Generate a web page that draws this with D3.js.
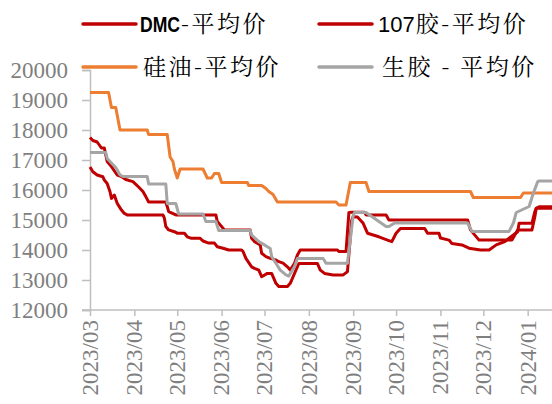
<!DOCTYPE html>
<html>
<head>
<meta charset="utf-8">
<script src="https://cdn.jsdelivr.net/npm/d3@7"></script>
<style>
  body { margin: 0; background: #fff; }
  svg { display: block; }
</style>
</head>
<body>
<div id="chart"></div>
<script>
// prices (yuan / ton)
var dmcDates = ["2023-03-01","2023-03-03","2023-03-06","2023-03-10","2023-03-11","2023-03-13","2023-03-15","2023-03-16","2023-03-18","2023-03-20","2023-03-23","2023-03-25","2023-03-27","2023-04-21","2023-04-22","2023-04-23","2023-04-25","2023-04-29","2023-05-01","2023-05-06","2023-05-08","2023-05-11","2023-05-17","2023-05-19","2023-05-23","2023-05-27","2023-05-29","2023-06-02","2023-06-06","2023-06-15","2023-06-16","2023-06-18","2023-06-22","2023-06-24","2023-06-27","2023-06-29","2023-07-03","2023-07-06","2023-07-09","2023-07-11","2023-07-17","2023-07-19","2023-07-22","2023-07-25","2023-08-07","2023-08-09","2023-08-12","2023-08-18","2023-08-25","2023-08-28","2023-08-31","2023-09-01","2023-09-04","2023-09-08","2023-09-11","2023-09-19","2023-09-25","2023-09-28","2023-10-01","2023-10-04","2023-10-21","2023-10-23","2023-10-31","2023-11-01","2023-11-07","2023-11-09","2023-11-16","2023-11-21","2023-11-29","2023-12-05","2023-12-10","2023-12-16","2023-12-19","2023-12-25","2023-12-26","2024-01-04","2024-01-06","2024-01-07","2024-01-18"];
var dmcValues = [16770,16610,16500,16440,16330,16220,15940,15720,15830,15560,15330,15220,15170,15170,15060,14780,14670,14610,14560,14560,14440,14390,14390,14300,14230,14230,14110,14060,14000,14000,13950,13720,13440,13390,13330,13110,13220,13220,12890,12780,12780,12890,13220,13550,13550,13330,13220,13170,13170,13280,15000,15110,15100,14890,14560,14440,14330,14280,14560,14720,14720,14560,14560,14400,14330,14220,14170,14060,14000,14000,14170,14280,14390,14610,14890,14890,15280,15390,15390];

var g107Dates = ["2023-03-01","2023-03-03","2023-03-06","2023-03-09","2023-03-11","2023-03-13","2023-03-16","2023-03-20","2023-03-23","2023-03-26","2023-03-31","2023-04-04","2023-04-07","2023-04-09","2023-04-11","2023-04-23","2023-04-24","2023-04-25","2023-04-30","2023-05-28","2023-05-29","2023-06-03","2023-06-21","2023-06-22","2023-06-24","2023-06-28","2023-06-29","2023-07-02","2023-07-05","2023-07-09","2023-07-11","2023-07-14","2023-07-17","2023-07-19","2023-07-22","2023-07-24","2023-07-26","2023-08-21","2023-08-22","2023-08-27","2023-08-29","2023-08-31","2023-09-09","2023-09-10","2023-09-24","2023-09-26","2023-11-20","2023-11-22","2023-11-28","2023-12-21","2023-12-23","2023-12-25","2024-01-04","2024-01-06","2024-01-07","2024-01-09","2024-01-18"];
var g107Values = [17750,17650,17600,17400,17400,16950,16780,16500,16450,16350,16280,16100,15950,15780,15600,15600,15450,15280,15170,15170,14950,14670,14670,14390,14280,14170,13890,13780,13720,13670,13610,13560,13440,13330,13560,13830,14000,14000,13950,13950,15250,15260,15260,15170,15170,15000,15000,14670,14330,14330,14500,14670,14670,15110,15390,15440,15440];

var oilDates = ["2023-03-01","2023-03-14","2023-03-16","2023-03-19","2023-03-22","2023-04-10","2023-04-11","2023-04-24","2023-04-26","2023-04-28","2023-04-29","2023-05-01","2023-05-03","2023-05-19","2023-05-22","2023-05-25","2023-05-27","2023-05-30","2023-06-01","2023-06-19","2023-06-20","2023-06-29","2023-07-02","2023-07-04","2023-07-07","2023-07-10","2023-08-20","2023-08-22","2023-08-27","2023-08-30","2023-09-10","2023-09-12","2023-11-22","2023-11-24","2023-12-27","2023-12-29","2024-01-18"];
var oilValues = [19250,19250,18750,18750,18000,18000,17850,17850,17100,16950,16700,16400,16700,16700,16400,16400,16550,16550,16250,16250,16150,16150,16050,15950,15850,15600,15600,15500,15500,16250,16250,15950,15950,15750,15750,15900,15900];

var rawDates = ["2023-03-01","2023-03-12","2023-03-13","2023-03-16","2023-03-19","2023-03-22","2023-03-24","2023-04-10","2023-04-11","2023-04-23","2023-04-24","2023-04-30","2023-05-02","2023-05-19","2023-05-21","2023-05-28","2023-05-30","2023-06-21","2023-06-22","2023-06-27","2023-07-01","2023-07-05","2023-07-06","2023-07-09","2023-07-12","2023-07-16","2023-07-18","2023-07-22","2023-07-24","2023-08-11","2023-08-13","2023-08-28","2023-09-01","2023-09-02","2023-09-10","2023-09-24","2023-09-26","2023-09-30","2023-11-20","2023-11-23","2023-12-19","2023-12-22","2023-12-24","2024-01-02","2024-01-05","2024-01-08","2024-01-09","2024-01-18"];
var rawValues = [17250,17250,17050,16900,16750,16500,16450,16450,16200,16200,15550,15550,15200,15200,14950,14950,14650,14650,14500,14280,14170,14050,13780,13560,13330,13170,13130,13450,13720,13720,13560,13560,15150,15250,15250,14780,14780,14900,14900,14620,14620,14900,15250,15450,15900,16280,16300,16300];

var monthTicks = ["2023/03","2023/04","2023/05","2023/06","2023/07","2023/08","2023/09","2023/10","2023/11","2023/12","2024/01"];
var yTicks = [12000,13000,14000,15000,16000,17000,18000,19000,20000];
var seriesNames = ["DMC-平均价","107胶-平均价","硅油-平均价","生胶 - 平均价"];

var parseDay = d3.timeParse("%Y-%m-%d"),
  parseMonth = d3.timeParse("%Y/%m");

function zip(dates, values) {
  return dates.map(function (d, i) {
    return { x: parseDay(d), y: values[i] };
  });
}

var series = [
  { name: seriesNames[0], data: zip(dmcDates, dmcValues), color: "#C00000" },
  { name: seriesNames[1], data: zip(g107Dates, g107Values), color: "#C00000" },
  { name: seriesNames[2], data: zip(oilDates, oilValues), color: "#ED7D31" },
  { name: seriesNames[3], data: zip(rawDates, rawValues), color: "#A5A5A5" }
];

var width = 552, height = 404;
var margin = { left: 90, right: 552, top: 70, bottom: 310 };

var svg = d3.select("#chart").append("svg")
  .attr("width", width)
  .attr("height", height);

var xScale = d3.scaleTime()
  .domain([parseDay("2023-03-01"), parseDay("2024-01-18")])
  .range([margin.left, margin.right]);

var yScale = d3.scaleLinear()
  .domain([12000, 20000])
  .range([margin.bottom, margin.top]);

var axisColor = "#BFBFBF";

// y axis
var yAxis = svg.append("g")
  .attr("transform", "translate(" + margin.left + ",0)")
  .call(d3.axisLeft(yScale).tickValues(yTicks).tickSize(8).tickPadding(14).tickFormat(d3.format("d")));

// x axis
var xAxis = svg.append("g")
  .attr("transform", "translate(0," + margin.bottom + ")")
  .call(d3.axisBottom(xScale)
    .tickValues(monthTicks.map(parseMonth))
    .tickSize(6)
    .tickFormat(d3.timeFormat("%Y/%m")));

xAxis.select(".domain").attr("d", "M" + (margin.left - 8) + ",0H" + margin.right);

[xAxis, yAxis].forEach(function (ax) {
  ax.attr("font-family", null).attr("font-size", null);
  ax.select(".domain").attr("stroke", axisColor).attr("stroke-width", 1.5);
  ax.selectAll(".tick line").attr("stroke", axisColor).attr("stroke-width", 1.5);
  ax.selectAll("text")
    .attr("fill", "#7F7F7F")
    .style("font-family", "'Liberation Serif'")
    .style("font-size", "23px");
});

yAxis.selectAll("text").attr("dy", "0.34em");

xAxis.selectAll("text")
  .attr("text-anchor", "end")
  .attr("transform", "rotate(-90)")
  .attr("x", -10)
  .attr("y", 0)
  .attr("dx", 0)
  .attr("dy", "0.32em");

var plotLine = d3.line()
  .x(function (d) { return xScale(d.x); })
  .y(function (d) { return yScale(d.y); });

svg.append("g")
  .selectAll("path")
  .data(series)
  .enter().append("path")
  .attr("d", function (s) { return plotLine(s.data); })
  .attr("fill", "none")
  .attr("stroke", function (s) { return s.color; })
  .attr("stroke-width", 3)
  .attr("stroke-linejoin", "round");

// legend, two rows of two
var legendPos = [
  { x: 83, y: 24, tx: 140 },
  { x: 319, y: 24, tx: 378 },
  { x: 83, y: 67, tx: 143 },
  { x: 319, y: 67, tx: 382 }
];

var legend = svg.append("g").selectAll("g")
  .data(series)
  .enter().append("g");

legend.append("line")
  .attr("x1", function (s, i) { return legendPos[i].x; })
  .attr("x2", function (s, i) { return legendPos[i].x + 53; })
  .attr("y1", function (s, i) { return legendPos[i].y; })
  .attr("y2", function (s, i) { return legendPos[i].y; })
  .attr("stroke", function (s) { return s.color; })
  .attr("stroke-width", 3.5)
  .attr("stroke-linecap", "round");

legend.each(function (s, i) {
  var g = d3.select(this);
  var m = s.name.match(/^([A-Za-z0-9]*)(.*)$/);
  var x = legendPos[i].tx;
  if (m[1]) {
    var bold = m[1] === "DMC";
    var sx = bold ? 0.8 : 1;   // the bold DMC is set narrow in the original
    var lat = g.append("text")
      .attr("transform", "translate(" + x + "," + legendPos[i].y + ") scale(" + sx + ",1)")
      .attr("dy", "0.36em")
      .attr("fill", "#000")
      .style("font-family", "'Liberation Sans'")
      .style("font-size", "22px")
      .style("font-weight", bold ? "bold" : "normal")
      .text(m[1]);
    x += lat.node().getComputedTextLength() * sx + 1;
  }
  g.append("text")
    .attr("x", x)
    .attr("y", legendPos[i].y)
    .attr("dy", "0.36em")
    .attr("fill", "#000")
    .style("font-family", "'Noto Serif CJK SC'")
    .style("font-size", "23px")
    .style("letter-spacing", "2.5px")
    .text(m[2]);
});
</script>
</body>
</html>
